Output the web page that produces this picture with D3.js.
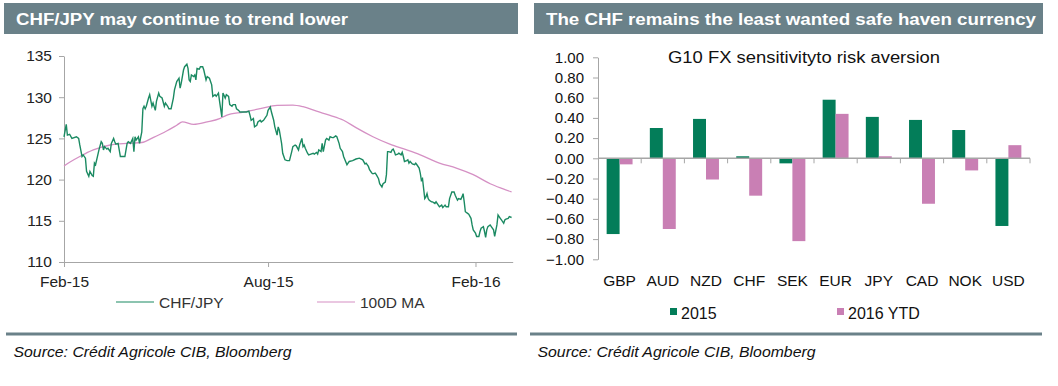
<!DOCTYPE html>
<html>
<head>
<meta charset="utf-8">
<script src="https://cdn.jsdelivr.net/npm/d3@7"></script>
<style>
  body { margin: 0; background: #fff; }
  text { font-family: Arial, "Liberation Sans", sans-serif; }
</style>
</head>
<body>
<div id="chart"></div>
<script>
// CHF/JPY spot
var fxDates = ["2015-02-01","2015-02-03","2015-02-04","2015-02-06","2015-02-08","2015-02-12","2015-02-14","2015-02-15","2015-02-17","2015-02-18",
  "2015-02-20","2015-02-21","2015-02-23","2015-02-24","2015-02-26","2015-02-27","2015-02-28","2015-03-01","2015-03-03","2015-03-04",
  "2015-03-06","2015-03-07","2015-03-08","2015-03-09","2015-03-11","2015-03-12","2015-03-14","2015-03-15","2015-03-17","2015-03-18",
  "2015-03-19","2015-03-21","2015-03-23","2015-03-26","2015-03-27","2015-03-29","2015-03-30","2015-04-01","2015-04-03","2015-04-04",
  "2015-04-05","2015-04-06","2015-04-08","2015-04-09","2015-04-11","2015-04-12","2015-04-13","2015-04-14","2015-04-15","2015-04-17",
  "2015-04-18","2015-04-20","2015-04-21","2015-04-23","2015-04-24","2015-04-26","2015-04-27","2015-04-29","2015-05-01","2015-05-02",
  "2015-05-04","2015-05-05","2015-05-07","2015-05-09","2015-05-10","2015-05-12","2015-05-13","2015-05-14","2015-05-15","2015-05-16",
  "2015-05-18","2015-05-19","2015-05-21","2015-05-22","2015-05-23","2015-05-24","2015-05-25","2015-05-27","2015-05-28","2015-05-29",
  "2015-05-30","2015-06-01","2015-06-02","2015-06-04","2015-06-05","2015-06-07","2015-06-08","2015-06-10","2015-06-12","2015-06-13",
  "2015-06-15","2015-06-16","2015-06-18","2015-06-19","2015-06-21","2015-06-22","2015-06-24","2015-06-25","2015-06-27","2015-06-28",
  "2015-06-30","2015-07-01","2015-07-03","2015-07-04","2015-07-06","2015-07-07","2015-07-10","2015-07-13","2015-07-15","2015-07-16",
  "2015-07-17","2015-07-19","2015-07-20","2015-07-22","2015-07-23","2015-07-25","2015-07-26","2015-07-28","2015-07-29","2015-07-31",
  "2015-08-01","2015-08-03","2015-08-04","2015-08-06","2015-08-07","2015-08-09","2015-08-10","2015-08-11","2015-08-12","2015-08-13",
  "2015-08-14","2015-08-16","2015-08-18","2015-08-20","2015-08-22","2015-08-23","2015-08-25","2015-08-26","2015-08-28","2015-08-29",
  "2015-08-31","2015-09-01","2015-09-02","2015-09-03","2015-09-05","2015-09-06","2015-09-08","2015-09-10","2015-09-11","2015-09-13",
  "2015-09-14","2015-09-15","2015-09-17","2015-09-18","2015-09-19","2015-09-21","2015-09-22","2015-09-24","2015-09-25","2015-09-27",
  "2015-09-28","2015-09-30","2015-10-01","2015-10-03","2015-10-04","2015-10-06","2015-10-07","2015-10-10","2015-10-12","2015-10-15",
  "2015-10-18","2015-10-21","2015-10-24","2015-10-26","2015-10-27","2015-10-29","2015-10-30","2015-11-01","2015-11-02","2015-11-04",
  "2015-11-05","2015-11-07","2015-11-08","2015-11-10","2015-11-11","2015-11-13","2015-11-14","2015-11-15","2015-11-16","2015-11-18",
  "2015-11-19","2015-11-20","2015-11-21","2015-11-22","2015-11-24","2015-11-25","2015-11-27","2015-11-28","2015-11-29","2015-11-30",
  "2015-12-02","2015-12-03","2015-12-04","2015-12-05","2015-12-07","2015-12-09","2015-12-10","2015-12-11","2015-12-13","2015-12-14",
  "2015-12-15","2015-12-16","2015-12-17","2015-12-18","2015-12-19","2015-12-20","2015-12-21","2015-12-22","2015-12-24","2015-12-25",
  "2015-12-27","2015-12-28","2015-12-30","2015-12-31","2016-01-02","2016-01-03","2016-01-05","2016-01-06","2016-01-08","2016-01-09",
  "2016-01-11","2016-01-13","2016-01-14","2016-01-16","2016-01-17","2016-01-19","2016-01-20","2016-01-21","2016-01-22","2016-01-23",
  "2016-01-25","2016-01-26","2016-01-28","2016-01-29","2016-01-30","2016-02-01","2016-02-02","2016-02-04","2016-02-05","2016-02-06",
  "2016-02-08","2016-02-09","2016-02-10","2016-02-11","2016-02-12","2016-02-14","2016-02-15","2016-02-17","2016-02-18","2016-02-20",
  "2016-02-21","2016-02-23","2016-02-24","2016-02-26","2016-02-27","2016-02-28","2016-03-01","2016-03-02","2016-03-04"];
var fxValues = [125.2,126.7,125.4,125.5,125.0,125.2,125.0,124.2,122.8,123.0,
  122.6,121.0,120.4,121.0,120.5,120.4,122.0,121.8,123.0,123.6,
  124.6,124.4,123.6,124.0,123.7,123.8,123.4,124.4,125.0,124.6,
  124.3,124.4,122.8,122.8,122.8,124.4,124.6,124.4,125.0,123.4,
  125.2,124.8,125.2,124.4,125.8,128.6,128.9,128.6,128.9,129.9,
  130.3,128.9,129.3,128.4,129.5,130.5,130.1,129.9,128.9,129.3,
  128.9,128.6,128.6,129.9,130.9,131.9,132.1,132.3,131.1,131.7,
  133.3,133.7,134.0,133.5,132.1,131.9,132.7,132.5,132.7,132.1,
  133.5,133.4,133.7,133.7,133.3,132.1,132.5,132.3,131.5,130.1,
  130.3,130.1,130.5,129.5,127.6,130.5,129.9,130.3,130.1,129.1,
  128.9,129.1,129.1,128.6,128.4,128.2,128.2,128.2,128.3,127.8,
  127.2,127.4,126.4,126.6,127.0,127.2,127.0,127.2,127.4,127.8,
  128.4,128.8,128.2,127.2,126.4,125.4,126.4,126.0,125.2,124.4,
  123.2,122.4,122.3,122.3,123.4,124.0,124.2,124.1,123.6,124.2,
  125.0,124.0,124.2,123.8,123.2,123.0,123.1,123.2,123.1,123.3,
  123.1,123.6,123.4,124.4,123.4,124.8,125.0,124.8,125.2,125.1,
  125.1,125.3,125.2,124.4,123.8,123.4,122.8,121.8,122.2,122.3,
  122.5,122.6,122.4,121.9,122.0,121.6,121.2,120.8,120.7,120.8,
  120.6,120.1,119.5,119.1,119.5,119.7,120.6,123.4,123.4,123.3,
  123.6,123.7,123.4,123.0,123.1,123.2,123.0,123.3,122.8,122.2,
  122.3,122.4,122.0,122.2,121.9,121.8,122.0,121.8,121.4,120.8,
  119.9,120.1,118.9,117.7,117.9,118.3,117.7,117.5,117.3,117.3,
  117.1,117.3,116.9,116.7,116.9,116.6,116.9,116.7,116.7,117.7,
  118.5,118.5,118.1,117.5,117.7,117.6,117.9,118.3,117.3,116.1,
  115.9,115.8,115.3,114.5,113.9,113.5,113.1,113.1,113.7,114.1,
  114.3,113.7,113.0,113.9,114.3,114.5,114.3,113.9,113.1,114.5,
  115.7,115.3,115.1,114.7,115.1,115.2,115.3,115.5,115.4];

// 100-day moving average
var maDates = ["2015-02-01","2015-02-06","2015-02-15","2015-02-27","2015-03-14","2015-03-29","2015-04-11","2015-04-21","2015-05-03","2015-05-12",
  "2015-05-17","2015-05-27","2015-06-08","2015-06-19","2015-06-25","2015-07-10","2015-07-25","2015-08-09","2015-08-23","2015-09-01",
  "2015-09-13","2015-09-25","2015-10-07","2015-10-18","2015-11-02","2015-11-17","2015-12-02","2015-12-14","2015-12-31","2016-01-15",
  "2016-01-30","2016-02-14","2016-02-25","2016-03-04"];
var maValues = [121.65,122.1,122.8,123.6,124.2,124.4,124.5,125.1,125.9,126.6,
  127.0,126.7,127.0,127.4,127.8,128.2,128.6,129.0,129.05,128.85,
  128.3,127.8,127.2,126.3,125.2,124.3,123.6,123.0,122.0,121.4,
  120.6,119.5,118.9,118.5];

var fxTicks = [110, 115, 120, 125, 130, 135];
var dateTicks = ["2015-02-01", "2015-08-01", "2016-02-01"];
var lineNames = ["CHF/JPY", "100D MA"];

// G10 FX sensitivity to risk aversion
var currencies = ["GBP","AUD","NZD","CHF","SEK","EUR","JPY","CAD","NOK","USD"];
var sens2015 = [-0.75, 0.30, 0.39, 0.02, -0.05, 0.58, 0.41, 0.38, 0.28, -0.67];
var sens2016 = [-0.06, -0.70, -0.21, -0.37, -0.82, 0.44, 0.02, -0.45, -0.12, 0.13];
var sensTicks = [-1, -0.8, -0.6, -0.4, -0.2, 0, 0.2, 0.4, 0.6, 0.8, 1];
var barNames = ["2015", "2016 YTD"];

var headerCol = "#6a8189";
var green = "#037d59";
var pink = "#c97fb4";
var lineGreen = "#1b8a62";
var linePink = "#d590c4";
var axisCol = "#a6a6a6";

var parse = d3.timeParse("%Y-%m-%d");

var svg = d3.select("#chart").append("svg")
  .attr("width", 1058)
  .attr("height", 386);

// headers
function header(x, w, title, len){
  svg.append("rect")
    .attr("x", x).attr("y", 3)
    .attr("width", w).attr("height", 31)
    .attr("fill", headerCol);
  svg.append("text")
    .attr("x", x + 12).attr("y", 25)
    .attr("textLength", len)
    .attr("lengthAdjust", "spacingAndGlyphs")
    .style("font-size", "16px")
    .style("font-weight", "bold")
    .style("fill", "#fff")
    .text(title);
}
header(4, 514, "CHF/JPY may continue to trend lower", 332);
header(534, 509, "The CHF remains the least wanted safe haven currency", 490);

// bottom rules + source
function footer(x1, x2, tx){
  svg.append("line")
    .attr("x1", x1).attr("x2", x2)
    .attr("y1", 334).attr("y2", 334)
    .attr("stroke", headerCol)
    .attr("stroke-width", 3);
  svg.append("text")
    .attr("x", tx).attr("y", 357)
    .attr("textLength", 278)
    .attr("lengthAdjust", "spacingAndGlyphs")
    .style("font-size", "14.5px")
    .style("font-style", "italic")
    .style("fill", "#111")
    .text("Source: Crédit Agricole CIB, Bloomberg");
}
footer(6, 517, 13.5);
footer(530, 1042, 537.5);

// ---------- left: line chart
var x = d3.scaleTime()
  .domain([parse("2015-02-01"), parse("2016-03-05")])
  .range([64, 512.7]);
var y = d3.scaleLinear()
  .domain([110, 135])
  .range([262, 56]);

var yAxis = svg.append("g")
  .attr("transform", "translate(64,0)")
  .call(d3.axisLeft(y).tickValues(fxTicks).tickSize(5).tickSizeOuter(0).tickPadding(7));
var xAxis = svg.append("g")
  .attr("transform", "translate(0,262)")
  .call(d3.axisBottom(x).tickValues(dateTicks.map(parse)).tickFormat(d3.timeFormat("%b-%y")).tickSize(5).tickSizeOuter(0).tickPadding(5));

[yAxis, xAxis].forEach(function(g){
  g.selectAll("path, line").attr("stroke", axisCol);
  g.selectAll("text")
    .style("font-size", "15.5px")
    .style("font-family", "Arial, 'Liberation Sans', sans-serif")
    .attr("fill", "#222");
});
xAxis.selectAll("text").attr("dy", "0.95em");

var line = d3.line()
  .x(function(d){ return x(d[0]); })
  .y(function(d){ return y(d[1]); });

var maData = maDates.map(function(d, i){ return [parse(d), maValues[i]]; });
var fxData = fxDates.map(function(d, i){ return [parse(d), fxValues[i]]; });

svg.append("path")
  .datum(maData)
  .attr("d", line.curve(d3.curveMonotoneX))
  .attr("fill", "none")
  .attr("stroke", linePink)
  .attr("stroke-width", 1.3);

svg.append("path")
  .datum(fxData)
  .attr("d", line.curve(d3.curveLinear))
  .attr("fill", "none")
  .attr("stroke", lineGreen)
  .attr("stroke-width", 1.4);

// left legend
var lineLeg = [[116, lineGreen], [317, linePink]];
lineNames.forEach(function(n, i){
  svg.append("line")
    .attr("x1", lineLeg[i][0]).attr("x2", lineLeg[i][0] + 38)
    .attr("y1", 302).attr("y2", 302)
    .attr("stroke", lineLeg[i][1])
    .attr("stroke-width", 1.2);
  svg.append("text")
    .attr("x", lineLeg[i][0] + 43).attr("y", 307.5)
    .style("font-size", "15.5px")
    .style("fill", "#333")
    .text(n);
});

// ---------- right: bar chart
var bx = d3.scaleBand()
  .domain(currencies)
  .range([598, 1030])
  .paddingInner(0).paddingOuter(0);
var by = d3.scaleLinear()
  .domain([-1, 1])
  .range([259.3, 57.3]);
var bw = bx.bandwidth();

var byAxis = svg.append("g")
  .attr("transform", "translate(598,0)")
  .call(d3.axisLeft(by).tickValues(sensTicks).tickFormat(d3.format(".2f")).tickSize(5).tickSizeOuter(0).tickPadding(9));
byAxis.selectAll("path, line").attr("stroke", axisCol);
byAxis.selectAll("text")
  .style("font-size", "15px")
  .style("font-family", "Arial, 'Liberation Sans', sans-serif")
  .attr("fill", "#111");

svg.append("text")
  .attr("x", 668).attr("y", 63)
  .attr("textLength", 272)
  .attr("lengthAdjust", "spacingAndGlyphs")
  .style("font-size", "16px")
  .style("fill", "#111")
  .text("G10 FX sensitivityto risk aversion");

var series = [sens2015, sens2016];
var cols = [green, pink];
series.forEach(function(vals, s){
  svg.append("g").selectAll("rect")
    .data(currencies)
    .join("rect")
    .attr("x", function(c){ return bx(c) + bw * (0.2 + 0.3 * s); })
    .attr("width", bw * 0.3)
    .attr("y", function(c, i){ return by(Math.max(0, vals[i])); })
    .attr("height", function(c, i){ return Math.abs(by(vals[i]) - by(0)); })
    .attr("fill", cols[s]);
});

// zero axis with category tick marks at band edges
svg.append("line")
  .attr("x1", bx.range()[0]).attr("x2", bx.range()[1])
  .attr("y1", by(0)).attr("y2", by(0))
  .attr("stroke", axisCol)
  .attr("stroke-width", 1.5);
svg.append("g").selectAll("line")
  .data(currencies)
  .join("line")
  .attr("x1", function(c){ return bx(c) + bw; })
  .attr("x2", function(c){ return bx(c) + bw; })
  .attr("y1", by(0)).attr("y2", by(0) + 5)
  .attr("stroke", axisCol);

svg.append("g").selectAll("text")
  .data(currencies)
  .join("text")
  .attr("x", function(c){ return bx(c) + bw / 2; })
  .attr("y", 286)
  .attr("text-anchor", "middle")
  .style("font-size", "15.5px")
  .style("fill", "#111")
  .text(function(c){ return c; });

// right legend
var barLeg = [670, 837];
barNames.forEach(function(n, i){
  svg.append("rect")
    .attr("x", barLeg[i]).attr("y", 308)
    .attr("width", 7).attr("height", 7)
    .attr("fill", cols[i]);
  svg.append("text")
    .attr("x", barLeg[i] + 11).attr("y", 319)
    .style("font-size", "16px")
    .style("fill", "#111")
    .text(n);
});
</script>
</body>
</html>
